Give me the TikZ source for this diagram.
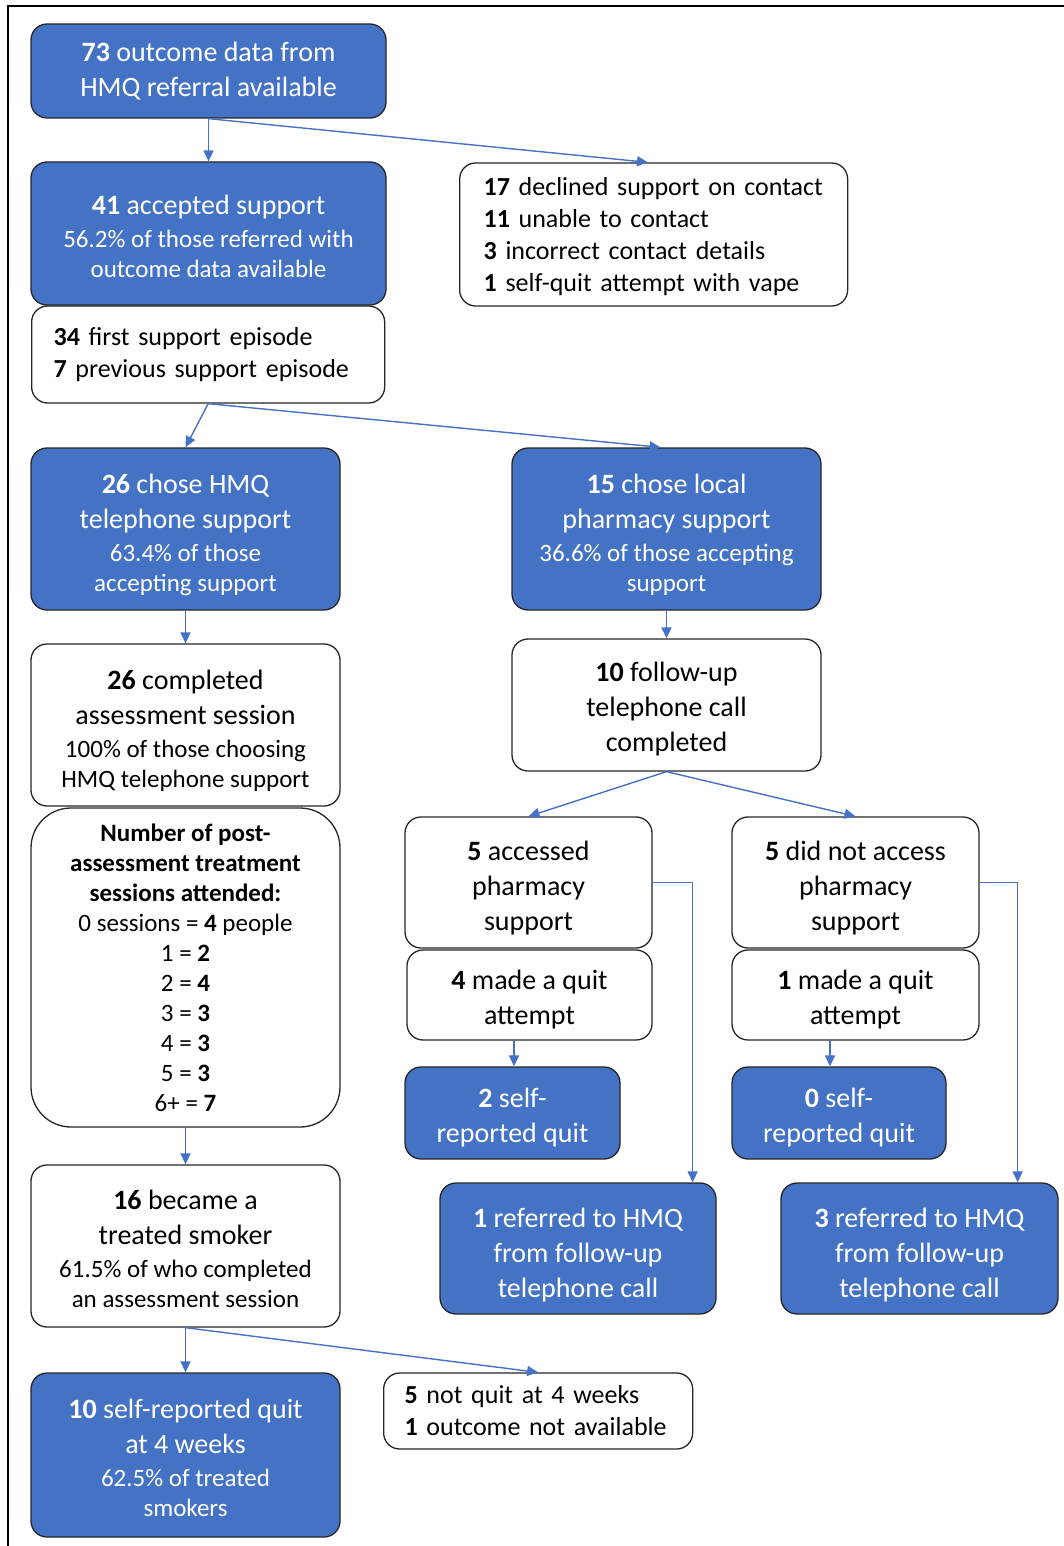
\documentclass[tikz,border=0pt]{standalone}
\usepackage{fontspec}
\setmainfont{Carlito}
\usetikzlibrary{arrows.meta,calc}
\definecolor{boxblue}{HTML}{4472C4}
\definecolor{edgeline}{HTML}{262626}
\newcommand\bigtxt{\fontsize{28}{35}\selectfont}
\newcommand\smalltxt{\fontsize{25}{30}\selectfont}
\newcommand\listtxt{\fontsize{26}{32}\selectfont}
% strut that pushes the first line of a centred block downwards
\newcommand\topstrut[1]{\rule{0pt}{#1}}

\begin{document}
\begin{tikzpicture}[x=1pt,y=-1pt,
  base/.style={draw=edgeline, line width=1.3pt, rounded corners=16pt, inner sep=0pt, align=center},
  bluebox/.style={base, fill=boxblue, text=white, font=\bigtxt},
  whitebox/.style={base, fill=white, text=black, font=\bigtxt},
  listbox/.style={base, fill=white, text=black, font=\listtxt, align=left, anchor=west},
  arr/.style={draw=boxblue, line width=1.4pt, -{Triangle[length=11pt,width=10pt]}},
]
\useasboundingbox (0,0) rectangle (1064,1546);
% outer frame
\draw[line width=2pt] (8,1546) -- (8,6) -- (1064,6);

% referral and first contact
\node[bluebox, minimum width=355pt, minimum height=94pt] (n73) at (208.5,71)
  {\textbf{73} outcome data from\\HMQ referral available};
\node[bluebox, minimum width=355pt, minimum height=143pt] (n41) at (208.5,233.5)
  {\topstrut{26pt}\textbf{41} accepted support\\[-2pt]\smalltxt 56.2\% of those referred with\\[-5pt]\smalltxt outcome data available};
\node[listbox, minimum width=388pt, minimum height=143pt, inner xsep=24pt, text width=340pt] (decl) at (459,234.5)
  {\topstrut{23pt}\textbf{17} declined support on contact\\\textbf{11} unable to contact\\\textbf{3} incorrect contact details\\\textbf{1} self-quit attempt with vape};
\node[listbox, minimum width=353pt, minimum height=97pt, inner xsep=22pt, text width=309pt] (ep) at (31,354.5)
  {\textbf{34} first support episode\\\textbf{7} previous support episode};

% HMQ telephone branch
\node[bluebox, minimum width=309pt, minimum height=162pt] (n26) at (185.5,529)
  {\topstrut{31pt}\textbf{26} chose HMQ\\telephone support\\[-2pt]\smalltxt 63.4\% of those\\[-5pt]\smalltxt accepting support};
\node[whitebox, minimum width=309pt, minimum height=162pt] (comp) at (185.5,725)
  {\topstrut{31pt}\textbf{26} completed\\assessment session\\[-2pt]\smalltxt 100\% of those choosing\\[-5pt]\smalltxt HMQ telephone support};
\node[whitebox, rounded corners=40pt, font=\smalltxt, minimum width=309pt, minimum height=319pt] (sess) at (185.5,967.5)
  {\textbf{Number of post-}\\\textbf{assessment treatment}\\\textbf{sessions attended:}\\0 sessions = \textbf{4} people\\1 = \textbf{2}\\2 = \textbf{4}\\3 = \textbf{3}\\4 = \textbf{3}\\5 = \textbf{3}\\6+ = \textbf{7}};
\node[whitebox, minimum width=309pt, minimum height=162pt] (t16) at (185.5,1246)
  {\topstrut{25pt}\textbf{16} became a\\treated smoker\\[-2pt]\smalltxt 61.5\% of who completed\\[-5pt]\smalltxt an assessment session};
\node[bluebox, minimum width=309pt, minimum height=164pt] (q10) at (185.5,1455)
  {\topstrut{25pt}\textbf{10} self-reported quit\\at 4 weeks\\[-2pt]\smalltxt 62.5\% of treated\\[-5pt]\smalltxt smokers};
\node[listbox, minimum width=309pt, minimum height=76pt, inner xsep=21pt, text width=267pt] (not5) at (383,1411)
  {\textbf{5} not quit at 4 weeks\\\textbf{1} outcome not available};

% local pharmacy branch
\node[bluebox, minimum width=309pt, minimum height=162pt] (n15) at (666.5,529)
  {\topstrut{31pt}\textbf{15} chose local\\pharmacy support\\[-2pt]\smalltxt 36.6\% of those accepting\\[-5pt]\smalltxt support};
\node[whitebox, minimum width=309pt, minimum height=132pt] (fu) at (666.5,705)
  {\topstrut{28pt}\textbf{10} follow-up\\telephone call\\completed};
\node[whitebox, minimum width=247pt, minimum height=131pt] (acc) at (528.5,882.5)
  {\topstrut{31pt}\textbf{5} accessed\\pharmacy\\support};
\node[whitebox, minimum width=247pt, minimum height=131pt] (nacc) at (855.5,882.5)
  {\topstrut{31pt}\textbf{5} did not access\\pharmacy\\support};
\node[whitebox, minimum width=245pt, minimum height=90pt] (quit4) at (529.5,995)
  {\topstrut{28pt}\textbf{4} made a quit\\attempt};
\node[whitebox, minimum width=247pt, minimum height=90pt] (quit1) at (855.5,995)
  {\topstrut{28pt}\textbf{1} made a quit\\attempt};
\node[bluebox, minimum width=215pt, minimum height=92pt] (sr2) at (512.5,1113)
  {\topstrut{28pt}\textbf{2} self-\\reported quit};
\node[bluebox, minimum width=214pt, minimum height=92pt] (sr0) at (839,1113)
  {\topstrut{28pt}\textbf{0} self-\\reported quit};
\node[bluebox, minimum width=276pt, minimum height=131pt] (ref1) at (578,1248.5)
  {\topstrut{32pt}\textbf{1} referred to HMQ\\from follow-up\\telephone call};
\node[bluebox, minimum width=277pt, minimum height=131pt] (ref3) at (919.5,1248.5)
  {\topstrut{32pt}\textbf{3} referred to HMQ\\from follow-up\\telephone call};

% connectors
\draw[arr] (n73.south) -- (n41.north);
\draw[arr] (n73.south) -- ($(decl.north west)+(189,0)$);
\draw[arr] (ep.south) -- (n26.north);
\draw[arr] (ep.south) -- ($(n15.north)+(-6,0)$);
\draw[arr] (n26.south) -- (comp.north);
\draw[arr] (sess.south) -- (t16.north);
\draw[arr] (t16.south) -- (q10.north);
\draw[arr] (t16.south) -- (not5.north);
\draw[arr] (n15.south) -- (fu.north);
\draw[arr] (fu.south) -- (acc.north);
\draw[arr] (fu.south) -- (nacc.north);
\draw[arr] (acc.east) -| ($(ref1.north east)+(-24,0)$);
\draw[arr] (nacc.east) -| ($(ref3.north east)+(-41,0)$);
\coordinate (sr2in) at ($(sr2.north)+(1.5,0)$);
\coordinate (sr0in) at ($(sr0.north)+(-9,0)$);
\draw[arr] (quit4.south -| sr2in) -- (sr2in);
\draw[arr] (quit1.south -| sr0in) -- (sr0in);
\end{tikzpicture}
\end{document}
